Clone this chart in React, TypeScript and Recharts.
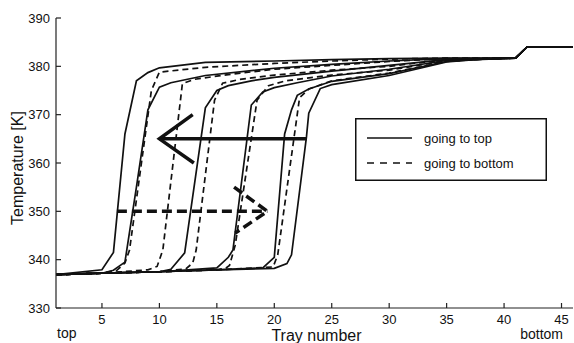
import { Legend, Line, LineChart, XAxis, YAxis } from "recharts";

type Pt = [number, number];

const xTicks = [5, 10, 15, 20, 25, 30, 35, 40, 45];
const yTicks = [330, 340, 350, 360, 370, 380, 390];

// trays in front of the temperature front, shared by all profiles
const base: Pt[] = [[1, 336.9], [5, 337.2], [10, 337.5], [15, 337.9], [20, 338.2]];
// end of the column, shared by all profiles
const columnEnd: Pt[] = [[41, 381.7], [42, 384], [46, 384]];

// going to top (solid)
const top1: Pt[] = [[5, 337.9], [6, 341.5], [7, 366], [8, 377], [9, 378.7], [10, 379.7], [14, 380.8], [20, 381.1], [25, 381.4], [30, 381.6], [35, 381.7]];
const top2: Pt[] = [[6, 337.8], [7, 339.5], [8, 355], [9, 371], [10, 375.7], [11, 376.6], [14, 378.1], [20, 379.6], [25, 380.4], [30, 381.1], [35, 381.6]];
const top3: Pt[] = [[11, 338], [12.2, 341.4], [14, 371.4], [15, 375], [16, 376], [18, 377], [20, 377.7], [25, 379], [30, 380.2], [35, 381.4]];
const top4: Pt[] = [[15, 338.3], [16, 340.5], [16.4, 342], [18, 372], [19, 374.7], [20, 375.6], [22, 376.6], [25, 378], [30, 379.4], [35, 381.2]];
const top5: Pt[] = [[19, 338.3], [20, 340.5], [20.9, 366], [21.5, 371], [22, 374], [23, 375.3], [25, 376.9], [30, 378.5], [35, 381], [38, 381.5]];
const top6: Pt[] = [[21.1, 339.2], [21.5, 341], [22.8, 365.4], [23, 370.3], [24, 375.4], [25, 376.2], [30, 378.1], [35, 380.9], [38, 381.5]];

// going to bottom (dashed)
const bot1: Pt[] = [[6.3, 337.8], [7, 339.3], [7.4, 342], [9.3, 375], [10, 378.8], [14, 379.8], [20, 380.6], [25, 381.1], [30, 381.5], [35, 381.7]];
const bot2: Pt[] = [[9, 337.9], [9.8, 338.6], [10.3, 342], [12, 376.4], [13, 377.3], [16, 378.3], [20, 379.4], [25, 380.2], [30, 381], [35, 381.6]];
const bot3: Pt[] = [[12.3, 338.1], [12.9, 339.3], [13.2, 342], [14.8, 373], [15.5, 376.5], [17, 377.3], [20, 378.2], [25, 379.2], [30, 380], [35, 381.4]];
const bot4: Pt[] = [[15.8, 338.3], [16.1, 338.8], [16.6, 343], [18.5, 373], [19.5, 376], [21, 377], [25, 378.2], [30, 379.2], [35, 381.2]];
const bot5: Pt[] = [[19.9, 338.5], [20.3, 341], [22.2, 373.5], [23, 375.3], [25, 377], [30, 378.6], [35, 381], [38, 381.5]];

// arrows showing the direction the front moves
const leftArrow: Pt[] = [[22.8, 365], [10, 365]];
const leftArrowHead: Pt[] = [[12.9, 370], [10, 365], [13, 360]];
const rightArrow: Pt[] = [[6.3, 350], [19.4, 350]];
const rightArrowHead: Pt[] = [[16.5, 355], [19.4, 350], [16.6, 345.5]];

const legendItems = [
  { label: "going to top", dash: undefined },
  { label: "going to bottom", dash: "7 6" },
];

const font = '"Liberation Sans", Arial, Helvetica, sans-serif';
const ink = "#111";

function profile(front: Pt[]) {
  const first = front[0][0];
  const last = front[front.length - 1][0];
  return [...base.filter((p) => p[0] < first), ...front, ...columnEnd.filter((p) => p[0] > last)].map(([x, t]) => ({ x, t }));
}

function pts(p: Pt[]) {
  return p.map(([x, t]) => ({ x, t }));
}

const solidSeries = [top1, top2, top3, top4, top5, top6];
const dashedSeries = [bot1, bot2, bot3, bot4, bot5];

function LegendBox() {
  return (
    <svg width={192} height={63} style={{ display: "block" }}>
      <rect x={0.75} y={0.75} width={190.5} height={61.5} fill="#fff" stroke={ink} strokeWidth={1.5} />
      {legendItems.map((it, i) => (
        <g key={it.label}>
          <line x1={12} x2={57} y1={20 + i * 25} y2={20 + i * 25} stroke={ink} strokeWidth={1.5} strokeDasharray={it.dash} />
          <text x={69} y={24.5 + i * 25} fontSize={13} fontFamily={font} fill={ink}>
            {it.label}
          </text>
        </g>
      ))}
    </svg>
  );
}

function YTitle(props: any) {
  const vb = props.viewBox || { x: 0, y: 18, width: 56, height: 290 };
  const cx = vb.x + 17;
  const cy = vb.y + vb.height / 2 + 5;
  return (
    <text x={cx} y={cy} transform={`rotate(-90, ${cx}, ${cy})`} textAnchor="middle" dominantBaseline="central" fontSize={16} fontFamily={font} fill={ink}>
      Temperature [K]
    </text>
  );
}

function XTitle(props: any) {
  const vb = props.viewBox || { x: 56, y: 308, width: 517, height: 35 };
  return (
    <g fontFamily={font} fill={ink}>
      <text x={vb.x + 1} y={vb.y + 30} fontSize={14}>top</text>
      <text x={vb.x + vb.width / 2 + 2} y={vb.y + 33} fontSize={16} textAnchor="middle">Tray number</text>
      <text x={vb.x + vb.width - 10} y={vb.y + 31} fontSize={14} textAnchor="end">bottom</text>
    </g>
  );
}

// tick marks only, no labels, on the top and right frame
const noLabel = () => <g />;

export default function App() {
  const axisStroke = { stroke: "#222", strokeWidth: 1.2 };
  const tickStyle = { fontSize: 13, fontFamily: font, fill: ink };
  return (
    <div style={{ position: "absolute", left: 0, top: 0, width: 574, height: 343, background: "#fff" }}>
      <LineChart width={574} height={343} margin={{ top: 18, right: 1, bottom: 0, left: 0 }}>
        <XAxis
          xAxisId="b"
          dataKey="x"
          type="number"
          domain={[1, 46]}
          ticks={xTicks}
          allowDataOverflow
          height={35}
          tickSize={-5}
          tickMargin={12}
          tick={tickStyle}
          axisLine={axisStroke}
          tickLine={axisStroke}
          label={(p: any) => <XTitle {...p} />}
        />
        <XAxis
          xAxisId="t"
          orientation="top"
          dataKey="x"
          type="number"
          domain={[1, 46]}
          ticks={xTicks}
          allowDataOverflow
          height={0}
          tickSize={-5}
          tick={noLabel}
          axisLine={axisStroke}
          tickLine={axisStroke}
        />
        <YAxis
          yAxisId="l"
          type="number"
          domain={[330, 390]}
          ticks={yTicks}
          allowDataOverflow
          width={56}
          tickSize={-5}
          tickMargin={11}
          tick={tickStyle}
          axisLine={axisStroke}
          tickLine={axisStroke}
          label={(p: any) => <YTitle {...p} />}
        />
        <YAxis
          yAxisId="r"
          orientation="right"
          type="number"
          domain={[330, 390]}
          ticks={yTicks}
          allowDataOverflow
          width={0}
          tickSize={-5}
          tick={noLabel}
          axisLine={axisStroke}
          tickLine={axisStroke}
        />
        <Legend
          layout="vertical"
          verticalAlign="middle"
          align="center"
          wrapperStyle={{ left: 355, top: 118, width: 192, height: 63 }}
          content={() => <LegendBox />}
        />
        {dashedSeries.map((s, i) => (
          <Line
            key={`d${i}`}
            xAxisId="b"
            yAxisId="l"
            data={profile(s)}
            dataKey="t"
            type="linear"
            stroke={ink}
            strokeWidth={1.7}
            strokeDasharray="6 4"
            dot={false}
            legendType="none"
            isAnimationActive={false}
          />
        ))}
        {solidSeries.map((s, i) => (
          <Line
            key={`s${i}`}
            xAxisId="b"
            yAxisId="l"
            data={profile(s)}
            dataKey="t"
            type="linear"
            stroke={ink}
            strokeWidth={1.7}
            dot={false}
            legendType="none"
            isAnimationActive={false}
          />
        ))}
        {[leftArrow, leftArrowHead].map((s, i) => (
          <Line
            key={`la${i}`}
            xAxisId="b"
            yAxisId="l"
            data={pts(s)}
            dataKey="t"
            type="linear"
            stroke={ink}
            strokeWidth={3.5}
            dot={false}
            legendType="none"
            isAnimationActive={false}
          />
        ))}
        {[rightArrow, rightArrowHead].map((s, i) => (
          <Line
            key={`ra${i}`}
            xAxisId="b"
            yAxisId="l"
            data={pts(s)}
            dataKey="t"
            type="linear"
            stroke={ink}
            strokeWidth={3.5}
            strokeDasharray="10 5"
            dot={false}
            legendType="none"
            isAnimationActive={false}
          />
        ))}
      </LineChart>
    </div>
  );
}
